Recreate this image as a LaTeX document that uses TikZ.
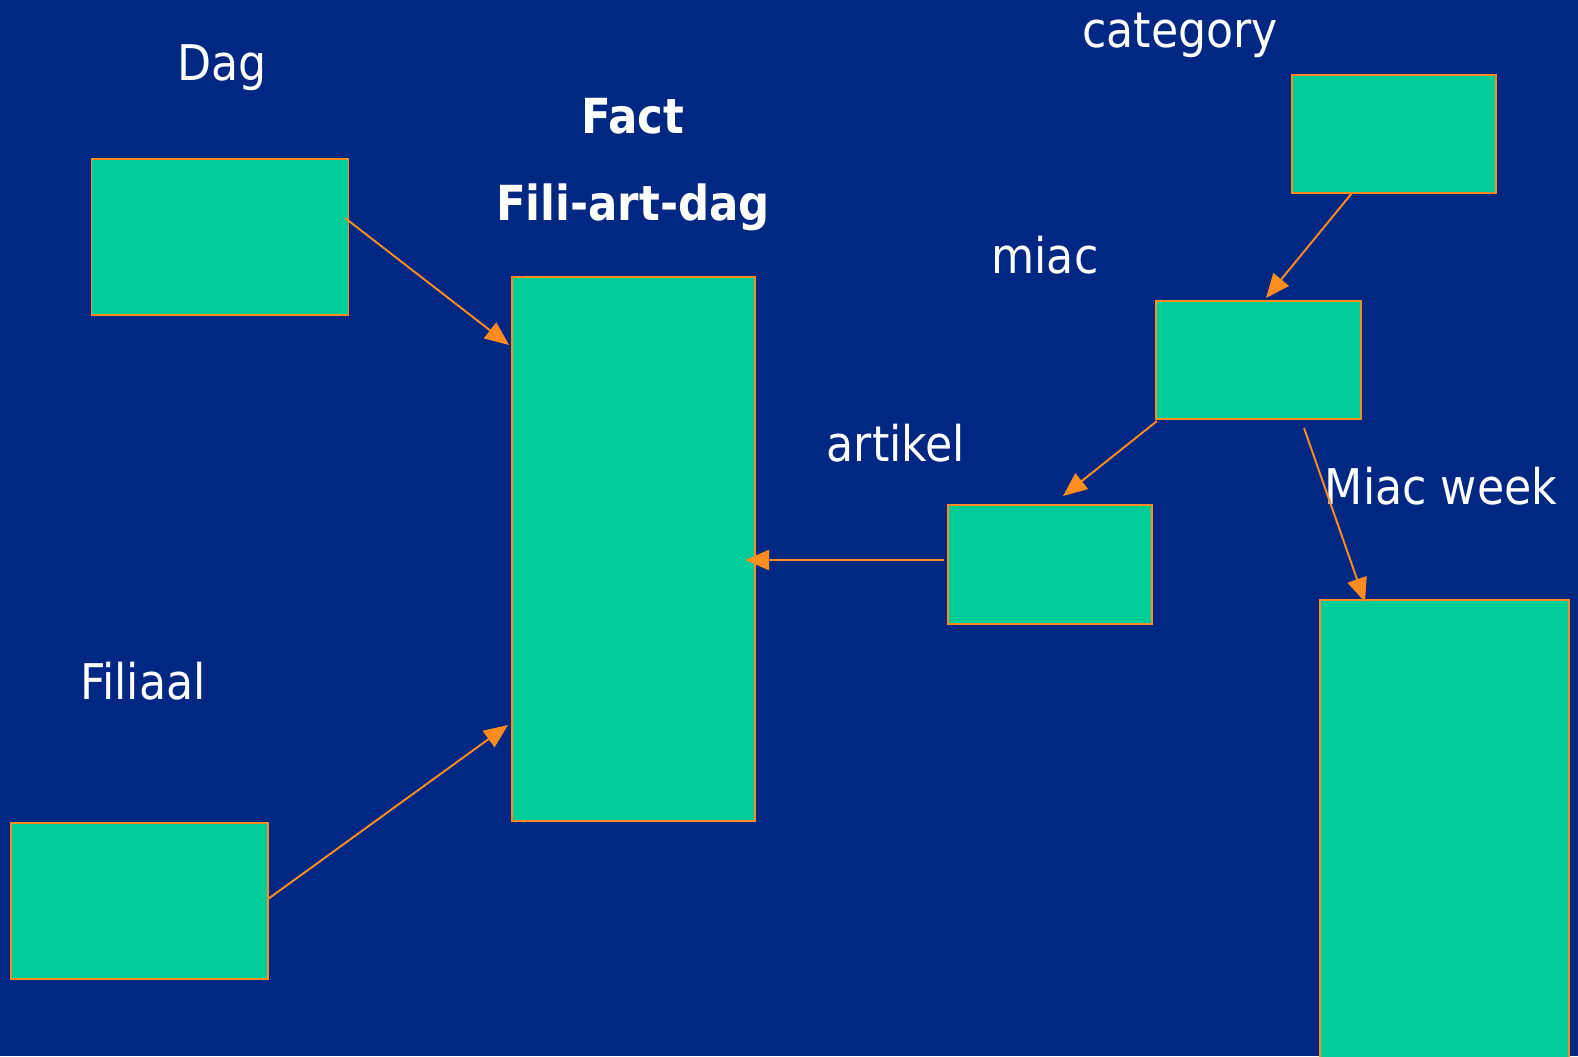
\documentclass[tikz,border=0pt]{standalone}
\usepackage{fontspec}
\setmainfont{DejaVu Sans Condensed}
\usetikzlibrary{arrows.meta}
\definecolor{slidebg}{RGB}{0,40,130}
\definecolor{boxgreen}{RGB}{0,204,153}
\definecolor{linkorange}{RGB}{255,140,30}

\begin{document}
\begin{tikzpicture}[x=0.02cm,y=-0.02cm,>={Triangle[length=0.48cm,width=0.4cm]},
  table box/.style={draw=linkorange,fill=boxgreen,line width=1pt,inner sep=0pt},
  link/.style={->,draw=linkorange,line width=1.1pt,shorten >=0pt},
  label text/.style={text=white,font=\fontsize{28}{30}\selectfont},
  title text/.style={text=white,font=\bfseries\fontsize{27.5}{30}\selectfont}]

% background
\fill[slidebg] (0,0) rectangle (1578,1056);
\useasboundingbox (0,0) rectangle (1578,1056);

% tables
\node[table box,minimum width=5.14cm,minimum height=3.12cm] (dag) at (220,237) {};
\node[table box,minimum width=4.86cm,minimum height=10.88cm] (fact) at (633.5,549) {};
\node[table box,minimum width=5.14cm,minimum height=3.12cm] (filiaal) at (139.5,901) {};
\node[table box,minimum width=4.08cm,minimum height=2.37cm] (category) at (1394,134) {};
\node[table box,minimum width=4.10cm,minimum height=2.36cm] (miac) at (1258.5,360) {};
\node[table box,minimum width=4.08cm,minimum height=2.38cm] (artikel) at (1050,564.5) {};
\filldraw[draw=linkorange,fill=boxgreen,line width=1pt] (1320,600) rectangle (1569,1080);
\coordinate (miacweek) at (1365,602);

% labels
\node[label text] (daglabel) at (222,68) {Dag};
\node[title text] (factlabel) at (633,116) {Fact};
\node[title text] (factname) at (633,207) {Fili-art-dag};
\node[label text] (categorylabel) at (1180,35) {category};
\node[label text] (miaclabel) at (1045,255) {miac};
\node[label text] (artikellabel) at (896,443) {artikel};
\node[label text] (miacweeklabel) at (1441,486) {Miac week};
\node[label text] (filiaallabel) at (143,681) {Filiaal};

% connector ends
\coordinate (dagout) at (345,218);
\coordinate (factin1) at (509,345);
\coordinate (filiaalout) at (268,899);
\coordinate (factin2) at (508,725);
\coordinate (artikelout) at (944,560);
\coordinate (factin3) at (745,560);
\coordinate (categoryout) at (1352,193);
\coordinate (miacin) at (1266,298);
\coordinate (miacout1) at (1157,421);
\coordinate (artikelin) at (1063,496);
\coordinate (miacout2) at (1304,428);

% links
\draw[link] (dagout) -- (factin1);
\draw[link] (filiaalout) -- (factin2);
\draw[link] (artikelout) -- (factin3);
\draw[link] (categoryout) -- (miacin);
\draw[link] (miacout1) -- (artikelin);
\draw[link] (miacout2) -- (miacweek);

\end{tikzpicture}
\end{document}
